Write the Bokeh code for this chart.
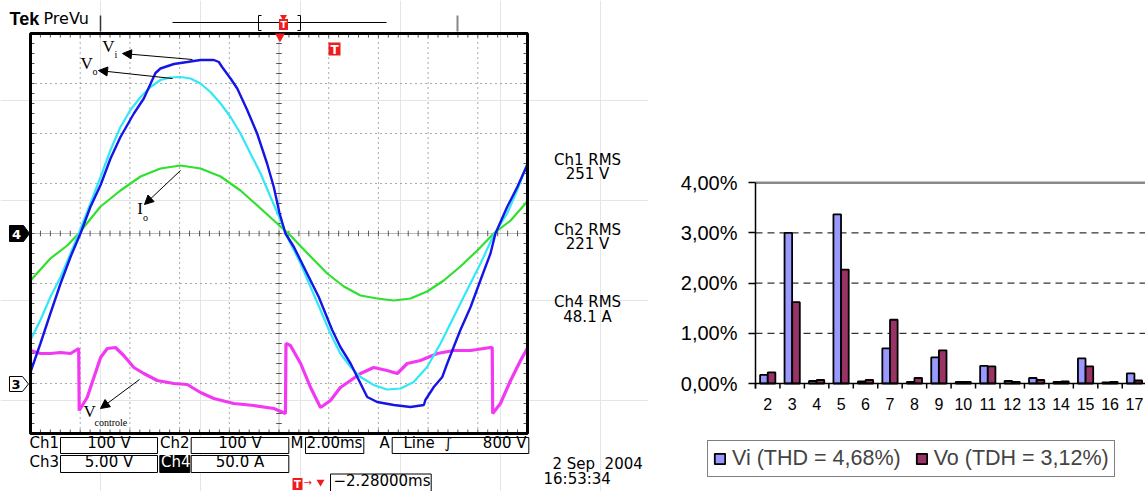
import numpy as np
from bokeh.plotting import figure
from bokeh.layouts import row
from bokeh.models import (Range1d, FixedTicker, Arrow, NormalHead,
                          Legend, LegendItem, ColumnDataSource)
from bokeh.transform import dodge
from bokeh.core.properties import value
from bokeh.embed import file_html
from bokeh.resources import INLINE

# ---------------- oscilloscope traces (time in ms, 2 ms/div) ----------------
vi_t = [0.00, 0.40, 0.80, 1.21, 1.61, 2.01, 2.41, 2.82, 3.22, 3.62, 4.16, 4.56, 4.90, 5.03,
        5.23, 5.77, 6.31, 6.84, 7.38, 7.58, 7.71, 8.05, 8.32, 8.72, 9.12, 9.52, 9.79, 10.02,
        10.26, 10.60, 10.93, 11.60, 12.14, 12.47, 12.88, 13.28, 13.55, 13.95, 14.62, 15.29,
        15.83, 15.89, 16.23, 16.57, 16.77, 17.03, 17.30, 17.71, 18.11, 18.51, 18.71, 19.18,
        19.59, 19.99]
vi_v = [-277, -220, -160, -100, -47, 0, 53, 97, 150, 193, 240, 270, 307, 321,
        330, 339, 343, 347, 347, 343, 333, 310, 290, 247, 200, 140, 93, 41,
        0, -27, -60, -127, -193, -227, -260, -300, -327, -337, -343, -347,
        -343, -333, -307, -287, -260, -227, -193, -147, -93, -40, 0, 53,
        93, 137]

vo_t = [0.00, 0.40, 0.80, 1.21, 1.61, 1.94, 2.41, 2.82, 3.22, 3.62, 4.02, 4.43, 4.83, 5.23,
        5.63, 6.04, 6.44, 6.84, 7.24, 7.65, 8.05, 8.45, 8.85, 9.26, 9.66, 10.06, 10.26,
        10.87, 11.27, 11.67, 12.07, 12.47, 12.88, 13.28, 13.81, 14.35, 14.89, 15.42, 15.96,
        16.50, 17.03, 17.57, 18.11, 18.64, 19.18, 19.59, 19.99]
vo_v = [-213, -173, -127, -87, -40, 0, 60, 113, 167, 213, 247, 273, 293, 307,
        312, 313, 310, 300, 283, 260, 233, 200, 160, 120, 73, 27, 0,
        -60, -107, -153, -200, -240, -267, -287, -303, -312, -310, -297, -267,
        -220, -167, -113, -60, -3, 40, 87, 140]

io_t = [0.00, 0.80, 1.48, 1.94, 2.82, 3.62, 4.43, 5.23, 6.04, 6.84, 7.65, 8.45, 9.26, 10.06,
        10.38, 11.27, 11.94, 12.61, 13.28, 13.95, 14.62, 15.29, 15.96, 16.63, 17.30, 17.98,
        18.64, 19.32, 19.99]
io_a = [-47, -25, -12, 0, 27, 43, 57, 65, 68, 65, 57, 43, 25, 7,
        0, -23, -40, -53, -62, -65, -67, -65, -58, -47, -33, -17,
        0, 13, 32]

vc_t = [0.00, 0.40, 0.80, 1.21, 1.61, 1.94, 1.96, 2.28, 2.55, 2.82, 3.09, 3.42, 3.75, 4.16,
        4.56, 5.10, 5.77, 6.31, 6.84, 7.38, 8.18, 8.99, 9.79, 10.26, 10.28, 10.46, 10.87,
        11.27, 11.67, 12.07, 12.47, 12.88, 13.28, 13.81, 14.35, 14.76, 15.16, 15.69, 16.37,
        17.03, 17.71, 18.51, 18.58, 18.60, 18.91, 19.32, 19.72, 19.99]
vc_v = [3.3, 3.0, 3.0, 3.1, 3.0, 3.5, -2.7, -1.4, 0.6, 2.6, 3.5, 3.6, 2.8, 1.6,
        1.0, 0.3, 0.0, -0.1, -0.9, -1.5, -2.0, -2.2, -2.5, -3.0, 4.0, 3.8, 2.0,
        -0.4, -2.4, -1.7, -0.4, 0.3, 1.0, 1.6, 1.3, 1.0, 2.0, 2.3, 3.0,
        3.3, 3.3, 3.6, 3.6, -3.0, -2.0, 0.3, 2.3, 3.5]

rms_labels = ["Ch1 RMS", "251 V", "Ch2 RMS", "221 V", "Ch4 RMS", "48.1 A"]
date_labels = ["2 Sep\u00a0 2004", "16:53:34"]

# ---------------- harmonic spectrum ----------------
harmonics = list(range(2, 18))
vi_pct = [0.17, 3.00, 0.05, 3.37, 0.04, 0.70, 0.03, 0.52, 0.03, 0.35, 0.05, 0.11, 0.03, 0.50, 0.02, 0.20]
vo_pct = [0.22, 1.62, 0.07, 2.27, 0.07, 1.27, 0.11, 0.66, 0.03, 0.34, 0.03, 0.07, 0.04, 0.34, 0.03, 0.06]
pct_ticks = [0, 1, 2, 3, 4]
pct_labels = ["0,00%", "1,00%", "2,00%", "3,00%", "4,00%"]
grid_pcts = [1, 2, 3]
legend_labels = ["Vi (THD = 4,68%)", "Vo (TDH = 3,12%)"]

# ---------------- geometry ----------------
REF_L, REF_T = 0, 0           # reference pixel at canvas origin
W_A, W_B, H = 648, 497, 491
GX0, GX1 = 30.0, 527.0        # graticule left / right
GY_C = 233.0                  # graticule centre line
PX_DIV_Y = 50.0
CH3_ZERO = 383.0
MS_DIV, V_DIV, A_DIV, V3_DIV = 2.0, 100.0, 50.0, 5.0
px_div_x = (GX1 - GX0) / 10.0

def yrange(zero, per_div):
    return Range1d((zero - (REF_T + H)) / PX_DIV_Y * per_div, (zero - REF_T) / PX_DIV_Y * per_div)

pa = figure(width=W_A, height=H, x_range=Range1d(REF_L, REF_L + W_A),
            y_range=Range1d(REF_T + H, REF_T), min_border=0,
            x_axis_location=None, y_axis_location=None, toolbar_location=None,
            output_backend="svg", outline_line_color=None)
pa.extra_x_ranges = {"ms": Range1d((REF_L - GX0) / px_div_x * MS_DIV,
                                   (REF_L + W_A - GX0) / px_div_x * MS_DIV)}
pa.extra_y_ranges = {"V": yrange(GY_C, V_DIV), "A": yrange(GY_C, A_DIV),
                     "V3": yrange(CH3_ZERO, V3_DIV)}

T_END, V_TOP = 10 * MS_DIV, 4 * V_DIV
G = dict(x_range_name="ms", y_range_name="V")
maj_x = [MS_DIV * i for i in range(1, 10) if i != 5]
maj_y = [V_DIV * j for j in (-3, -2, -1, 1, 2, 3)]
pa.segment(x0=maj_x, y0=[-V_TOP] * len(maj_x), x1=maj_x, y1=[V_TOP] * len(maj_x),
           line_color="#555555", line_dash="1 4", line_width=1, **G)
pa.segment(x0=[0] * len(maj_y), y0=maj_y, x1=[T_END] * len(maj_y), y1=maj_y,
           line_color="#555555", line_dash="1 4", line_width=1, **G)
pa.segment(x0=[T_END / 2, 0], y0=[-V_TOP, 0], x1=[T_END / 2, T_END], y1=[V_TOP, 0],
           line_color="#777777", line_dash="1 1", line_width=1, **G)
mt = np.arange(MS_DIV / 5, T_END - 1e-6, MS_DIV / 5)
mv = np.arange(-V_TOP + V_DIV / 5, V_TOP - 1e-6, V_DIV / 5)
tk_ms, tk_v = 0.16, 8.0
pa.segment(x0=mt, y0=-tk_v * 0.7, x1=mt, y1=tk_v * 0.7, line_color="#555555", **G)
pa.segment(x0=T_END / 2 - tk_ms * 0.7, y0=mv, x1=T_END / 2 + tk_ms * 0.7, y1=mv, line_color="#555555", **G)
pa.segment(x0=mt, y0=V_TOP, x1=mt, y1=V_TOP - tk_v, line_color="#555555", **G)
pa.segment(x0=mt, y0=-V_TOP, x1=mt, y1=-V_TOP + tk_v, line_color="#555555", **G)
pa.segment(x0=0, y0=mv, x1=tk_ms, y1=mv, line_color="#555555", **G)
pa.segment(x0=T_END, y0=mv, x1=T_END - tk_ms, y1=mv, line_color="#555555", **G)

# traces
pa.line(vc_t, vc_v, x_range_name="ms", y_range_name="V3", line_color="#f238f2", line_width=3.2)
pa.line(io_t, io_a, x_range_name="ms", y_range_name="A", line_color="#2fe02f", line_width=2.2)
pa.line(vo_t, vo_v, x_range_name="ms", y_range_name="V", line_color="#33e8f6", line_width=2.2)
pa.line(vi_t, vi_v, x_range_name="ms", y_range_name="V", line_color="#1515e6", line_width=2.4)

pa.quad(left=0, right=T_END, bottom=-V_TOP, top=V_TOP, fill_alpha=0,
        line_color="black", line_width=3, **G)

SANS = value("DejaVu Sans")
# header
pa.text(x=[9], y=[28], text=["Tek"], text_font=value("Liberation Sans"), text_font_style="bold",
        text_font_size="18px", text_color="black")
pa.text(x=[43], y=[27], text=["PreVu"], text_font=SANS, text_font_size="16px", text_color="black")
pa.segment(x0=[100, 457], y0=[15, 15], x1=[100, 457], y1=[31, 31],
           line_color=["#333333", "#888888"], line_width=[1.5, 2])
pa.segment(x0=[172], y0=[22], x1=[386], y1=[22], line_color="black", line_width=1)
pa.multi_line(xs=[[261, 258, 258, 261], [297, 300, 300, 297]],
              ys=[[15, 15, 30, 30], [15, 15, 30, 30]], line_color="black", line_width=1)
RED = "#ee1c1c"
pa.rect(x=[283, 334, 297], y=[24, 48.5, 483.5], width=[9, 12, 10], height=[11, 13, 12],
        fill_color=RED, line_color=None)
pa.text(x=[283, 334, 297], y=[24.5, 49, 484], text=["T", "T", "T"], text_font=SANS,
        text_font_style="bold", text_font_size=["9px", "12px", "10px"], text_color="white",
        text_align="center", text_baseline="middle")
pa.scatter(x=[283, 279.5, 320], y=[16.5, 36, 481.5], marker="inverted_triangle",
           size=[7, 10, 8], fill_color=RED, line_color=None)
pa.text(x=[303], y=[487], text=["\u2192"], text_font=SANS, text_font_size="10px", text_color=RED)

# channel ground markers
pa.patches(xs=[[9, 23, 29, 23, 9], [9, 22, 28, 22, 9]],
           ys=[[225, 225, 233, 241, 241], [376, 376, 383.5, 391, 391]],
           fill_color=["black", "white"], line_color="black", line_width=1)
pa.text(x=[16, 15.5], y=[233.5, 384], text=["4", "3"], text_font=SANS, text_font_style="bold",
        text_font_size="13px", text_color=["white", "black"], text_align="center",
        text_baseline="middle")

# trace annotations
SERIF = value("Liberation Serif")
pa.text(x=[101.7, 80, 136.7, 83], y=[55, 72, 217, 420], text=["V", "V", "I", "V"],
        text_font=SERIF, text_font_size="17px", text_color="black")
pa.text(x=[114, 92, 142.5, 94], y=[59.5, 76.5, 222.5, 427], text=["i", "o", "o", "controle"],
        text_font=SERIF, text_font_size="10px", text_color="black")
for x0, y0, x1, y1 in [(192, 59, 122, 53), (172, 78, 98, 70), (180, 170, 144, 204), (139, 379, 100, 408)]:
    pa.add_layout(Arrow(end=NormalHead(size=9, fill_color="black", line_color="black"),
                        x_start=x0, y_start=y0, x_end=x1, y_end=y1,
                        line_color="black", line_width=1))

# status boxes
pa.quad(left=[60, 190.7, 305, 391.7, 60, 190.7, 330],
        right=[157, 288.3, 363.3, 528.3, 157, 288.3, 430.7],
        top=[437, 437, 437, 437, 455, 455, 473.5],
        bottom=[453, 453, 453, 453, 472, 472, 491],
        fill_color="white", line_color="black", line_width=1)
pa.quad(left=[159.3], right=[189.3], top=[455], bottom=[472], fill_color="black", line_color="black")
pa.text(x=[29, 159.5, 290, 379, 403, 29, 333],
        y=[451, 451, 451, 451, 451, 470, 489],
        text=["Ch1", "Ch2", "M", "A", "Line", "Ch3", "\u22122.28000ms"],
        text_font=SANS, text_font_size="15px", text_color="black")
pa.text(x=[160.5], y=[470], text=["Ch4"], text_font=SANS, text_font_size="15px", text_color="white")
pa.text(x=[108.5, 239.5, 334, 108.5, 239.5, 448],
        y=[451, 451, 451, 470, 470, 451],
        text=["100 V", "100 V", "2.00ms", "5.00 V", "50.0 A", "\u222b"],
        text_font=SANS, text_font_size="15px", text_color="black", text_align="center")
pa.text(x=[526], y=[451], text=["800 V"], text_font=SANS, text_font_size="15px",
        text_color="black", text_align="right")
pa.text(x=[587] * 6, y=[168, 182, 238, 252, 310, 325], text=rms_labels, text_font=SANS,
        text_font_size="15px", text_color="black", text_align="center")
pa.text(x=[552, 543], y=[472, 487], text=date_labels, text_font=SANS,
        text_font_size="15px", text_color="black")

# ---------------- bar chart ----------------
CAT_PX = 24.45                # pixels per harmonic
AX_X = 755.0                  # reference x of the value axis
ZERO_Y, PX_PCT = 383.0, 50.2  # reference y of 0 % and pixels per 1 %
B_L = REF_L + W_A
x_start = 1.5 + (B_L - AX_X) / CAT_PX
x_end = 1.5 + (B_L + W_B - AX_X) / CAT_PX
y_start = (ZERO_Y - (REF_T + H)) / PX_PCT
y_end = (ZERO_Y - REF_T) / PX_PCT
TICK_PCT = 0.1

pb = figure(width=W_B, height=H, x_range=Range1d(x_start, x_end),
            y_range=Range1d(y_start, y_end), min_border=0,
            toolbar_location=None, output_backend="svg", outline_line_color=None)
pb.xgrid.visible = False
pb.ygrid.visible = False

pb.segment(x0=[1.5] * len(grid_pcts), y0=grid_pcts, x1=[x_end] * len(grid_pcts), y1=grid_pcts,
           line_color="black", line_dash="7 5", line_width=1)
pb.segment(x0=[1.5], y0=[pct_ticks[-1]], x1=[x_end], y1=[pct_ticks[-1]],
           line_color="#8a8a8a", line_width=2.5)
bounds = [h - 0.5 for h in harmonics] + [harmonics[-1] + 0.5]
pb.segment(x0=bounds, y0=[0] * len(bounds), x1=bounds, y1=[-TICK_PCT] * len(bounds),
           line_color="black", line_width=1.5)

src = ColumnDataSource(dict(h=harmonics, vi=vi_pct, vo=vo_pct))
r_vi = pb.vbar(x=dodge("h", -0.157), top="vi", width=0.31, source=src,
               fill_color="#9999ff", line_color="black", line_width=1.8)
r_vo = pb.vbar(x=dodge("h", 0.157), top="vo", width=0.31, source=src,
               fill_color="#993366", line_color="black", line_width=1.8)

ya = pb.yaxis[0]
ya.fixed_location = 1.5
ya.bounds = (-TICK_PCT, pct_ticks[-1])
ya.ticker = FixedTicker(ticks=pct_ticks)
ya.major_label_overrides = dict(zip(pct_ticks, pct_labels))
ya.minor_tick_line_color = None
ya.major_tick_out = 7
ya.major_tick_in = 0
ya.major_tick_line_width = 1.5
ya.axis_line_width = 1.5
ya.major_label_standoff = 11
ya.major_label_text_font = "Liberation Sans"
ya.major_label_text_font_size = "20px"
ya.major_label_text_color = "black"

xa = pb.xaxis[0]
xa.fixed_location = 0
xa.bounds = (1.5, x_end)
xa.ticker = FixedTicker(ticks=harmonics)
xa.axis_line_width = 1.5
xa.major_tick_line_color = None
xa.minor_tick_line_color = None
xa.major_tick_out = 0
xa.major_tick_in = 0
xa.major_label_standoff = 14
xa.major_label_text_font = "Liberation Sans"
xa.major_label_text_font_size = "16px"
xa.major_label_text_color = "black"

legend = Legend(items=[LegendItem(label=legend_labels[0], renderers=[r_vi]),
                       LegendItem(label=legend_labels[1], renderers=[r_vo])],
                location=(707 - B_L, (REF_T + H) - 477),
                orientation="horizontal", label_text_font="Liberation Sans",
                label_text_font_size="21.5px", glyph_width=13, glyph_height=13,
                label_standoff=6, spacing=14, padding=5, margin=0,
                border_line_color="black", border_line_width=1.5,
                background_fill_color="white", background_fill_alpha=1.0)
pb.add_layout(legend)

layout = row(pa, pb, spacing=0)
open("out.html", "w").write(file_html(layout, INLINE))
